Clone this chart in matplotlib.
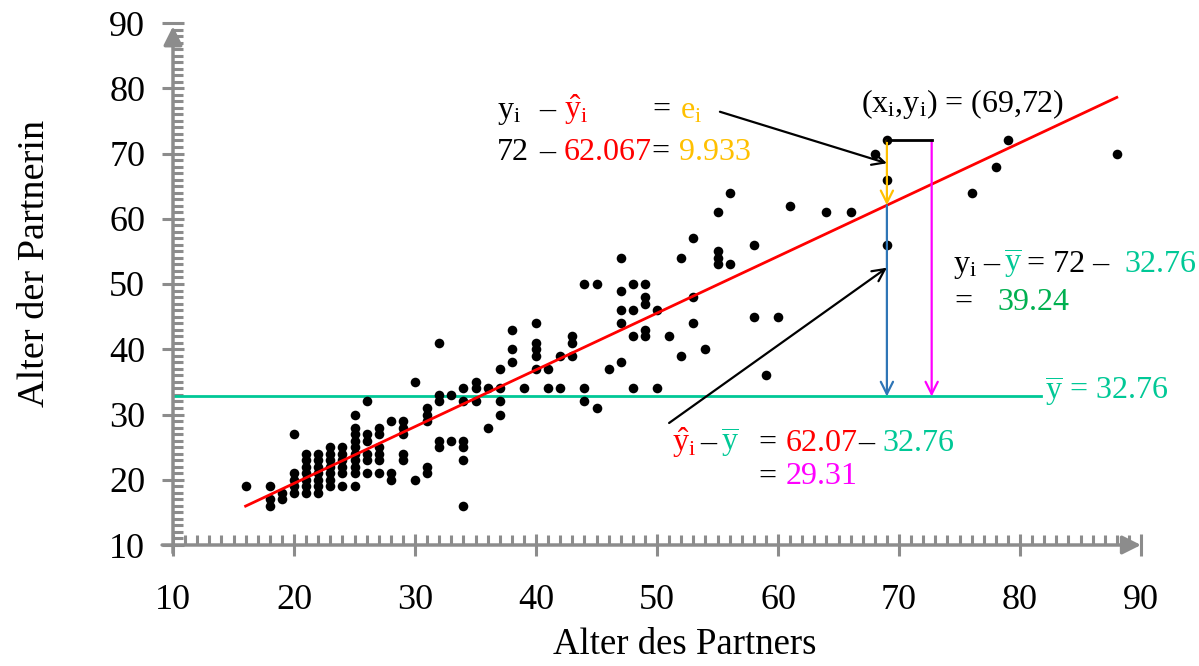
import matplotlib
matplotlib.use("Agg")
import matplotlib.pyplot as plt
from matplotlib.ticker import MultipleLocator

plt.rcParams['font.family'] = ['Liberation Serif', 'DejaVu Serif']
plt.rcParams['mathtext.fontset'] = 'custom'
plt.rcParams['mathtext.rm'] = 'Liberation Serif'
plt.rcParams['mathtext.it'] = 'Liberation Serif:italic'
plt.rcParams['mathtext.default'] = 'regular'

# data (age of partner, age of partner's wife)
partner_age = [16,
               18, 18, 18,
               19, 19,
               20, 20, 20, 20, 20,
               21, 21, 21, 21, 21, 21, 21,
               22, 22, 22, 22, 22, 22, 22,
               23, 23, 23, 23, 23, 23, 23,
               24, 24, 24, 24, 24, 24,
               25, 25, 25, 25, 25, 25, 25, 25, 25, 25,
               26, 26, 26, 26, 26, 26,
               27, 27, 27, 27, 27, 27,
               28, 28, 28,
               29, 29, 29, 29, 29,
               30, 30,
               31, 31, 31, 31, 31,
               32, 32, 32, 32, 32,
               33, 33,
               34, 34, 34, 34, 34, 34,
               35, 35, 35,
               36, 36,
               37, 37, 37, 37,
               38, 38, 38,
               39,
               40, 40, 40, 40, 40,
               41, 41,
               42, 42,
               43, 43, 43,
               44, 44, 44,
               45, 45,
               46,
               47, 47, 47, 47, 47,
               48, 48, 48, 48,
               49, 49, 49, 49, 49,
               50, 50,
               51,
               52, 52,
               53, 53, 53,
               54,
               55, 55, 55, 55,
               56, 56,
               58, 58,
               59, 60, 61, 64, 66, 68,
               69, 69, 69,
               76, 78, 79, 88]
partnerin_age = [19,
                 19, 17, 16,
                 18, 17,
                 27, 21, 20, 19, 18,
                 24, 23, 22, 21, 20, 19, 18,
                 24, 23, 22, 21, 20, 19, 18,
                 25, 24, 23, 22, 21, 20, 19,
                 25, 24, 23, 22, 21, 19,
                 30, 28, 27, 26, 25, 24, 23, 22, 21, 19,
                 32, 27, 26, 24, 23, 21,
                 28, 27, 25, 24, 23, 21,
                 29, 21, 20,
                 29, 28, 27, 24, 23,
                 35, 20,
                 31, 30, 29, 22, 21,
                 41, 33, 32, 26, 25,
                 33, 26,
                 34, 32, 26, 25, 23, 16,
                 35, 34, 32,
                 34, 28,
                 37, 34, 32, 30,
                 43, 40, 38,
                 34,
                 44, 41, 40, 39, 37,
                 37, 34,
                 39, 34,
                 42, 41, 39,
                 50, 34, 32,
                 50, 31,
                 37,
                 54, 49, 46, 44, 38,
                 50, 46, 42, 34,
                 50, 48, 47, 43, 42,
                 46, 34,
                 42,
                 54, 39,
                 57, 48, 44,
                 40,
                 61, 55, 54, 53,
                 64, 53,
                 56, 45,
                 36, 45, 62, 61, 61, 70,
                 72, 66, 56,
                 64, 68, 72, 70]

intercept = 2.04
slope = 0.87
y_mean = 32.76
x_i, y_i = 69, 72
y_hat_i = 62.067
fit_range = [16, 88]

RED = '#FF0000'
ORANGE = '#FFC000'
TEAL = '#00C896'
GREEN = '#00B050'
MAGENTA = '#FF00FF'
BLUE = '#2E75B6'
GRAY = '#8C8C8C'
FS = 23

fig = plt.figure(figsize=(11.99, 6.66), dpi=100)
ax = fig.add_axes([173 / 1199, 1 - 545 / 666, 968 / 1199, 522 / 666])
ax.set_xlim(10, 90)
ax.set_ylim(10, 90)

for s in ax.spines.values():
    s.set_visible(False)

ax.xaxis.set_major_locator(MultipleLocator(10))
ax.yaxis.set_major_locator(MultipleLocator(10))
ax.xaxis.set_minor_locator(MultipleLocator(1))
ax.yaxis.set_minor_locator(MultipleLocator(1))
ax.tick_params(which='major', direction='inout', length=16, width=2.2, color=GRAY,
               labelsize=26)
ax.tick_params(which='minor', direction='in', length=7, width=2.2, color=GRAY)
ax.tick_params(axis='x', which='major', pad=20)
ax.tick_params(axis='y', which='major', pad=12)

# axis lines with arrow heads
ax.annotate('', xy=(90, 10), xytext=(9.1, 10), annotation_clip=False,
            arrowprops=dict(arrowstyle='-|>', color=GRAY, lw=2.5,
                            mutation_scale=28, shrinkA=0, shrinkB=0))
ax.annotate('', xy=(10, 89.5), xytext=(10, 8.8), annotation_clip=False,
            arrowprops=dict(arrowstyle='-|>', color=GRAY, lw=2.5,
                            mutation_scale=28, shrinkA=0, shrinkB=0))

ax.scatter(partner_age, partnerin_age, s=48, color='black', zorder=3, linewidths=0)

# regression line and mean
fx = fit_range
ax.plot(fx, [intercept + slope * v for v in fx], color=RED, lw=2, zorder=4)
ax.plot([10, 81.7], [y_mean, y_mean], color=TEAL, lw=2, zorder=2)

arrow = dict(arrowstyle='->', lw=1.6, mutation_scale=22, shrinkA=0, shrinkB=0)
ax.annotate('', xy=(x_i, y_hat_i), xytext=(x_i, y_i),
            arrowprops=dict(arrow, color=ORANGE), zorder=5)
ax.annotate('', xy=(x_i, y_mean), xytext=(x_i, y_hat_i),
            arrowprops=dict(arrow, color=BLUE), zorder=5)
ax.annotate('', xy=(72.7, y_mean), xytext=(72.7, y_i),
            arrowprops=dict(arrow, color=MAGENTA), zorder=5)
ax.plot([x_i, 72.7], [y_i, y_i], color='black', lw=2, zorder=5)
ax.annotate('', xy=(69.0, 68.5), xytext=(55.2, 76.4),
            arrowprops=dict(arrow, color='black'), zorder=5)
ax.annotate('', xy=(69.0, 52.5), xytext=(51.0, 28.7),
            arrowprops=dict(arrow, color='black'), zorder=5)


def seg(x, y, s, color='black'):
    ax.text(x, y, s, color=color, fontsize=FS, ha='left', va='baseline', zorder=6)


# residual e_i
seg(36.8, 75.4, '$y_i$')
seg(40.3, 75.4, '\u2013')
seg(42.3, 75.4, '$\\hat{y}_i$', RED)
seg(49.6, 75.4, '=')
seg(51.9, 75.4, '$e_i$', ORANGE)
seg(36.8, 69.0, '72')
seg(40.3, 69.0, '\u2013')
seg(42.3, 69.0, '62.067', RED)
seg(49.5, 69.0, '=')
seg(51.8, 69.0, '9.933', ORANGE)

seg(66.9, 76.4, '(x$_i$,y$_i$) = (69,72)')

# total deviation
seg(74.5, 51.8, '$y_i$')
seg(77.0, 51.8, '\u2013')
seg(78.7, 51.8, '$\\overline{y}$', TEAL)
seg(80.6, 51.8, '= 72 \u2013')
seg(88.6, 51.8, '32.76', TEAL)
seg(74.6, 46.0, '=')
seg(78.1, 46.0, '39.24', GREEN)

seg(82.1, 32.2, '$\\overline{y}$ = 32.76', TEAL)

# explained deviation
seg(51.2, 24.4, '$\\hat{y}_i$', RED)
seg(53.6, 24.4, '\u2013')
seg(55.3, 24.4, '$\\overline{y}$', TEAL)
seg(58.4, 24.4, '=')
seg(60.6, 24.4, '62.07', RED)
seg(66.6, 24.4, '\u2013')
seg(68.6, 24.4, '32.76', TEAL)
seg(58.4, 19.3, '=')
seg(60.6, 19.3, '29.31', MAGENTA)

fig.text(685 / 1199, 1 - 645 / 666, 'Alter des Partners', fontsize=26.5,
         ha='center', va='center')
fig.text(35 / 1199, 1 - 263 / 666, 'Alter der Partnerin', fontsize=27.5,
         ha='center', va='center', rotation=90)

fig.savefig('out.png', dpi=100)
